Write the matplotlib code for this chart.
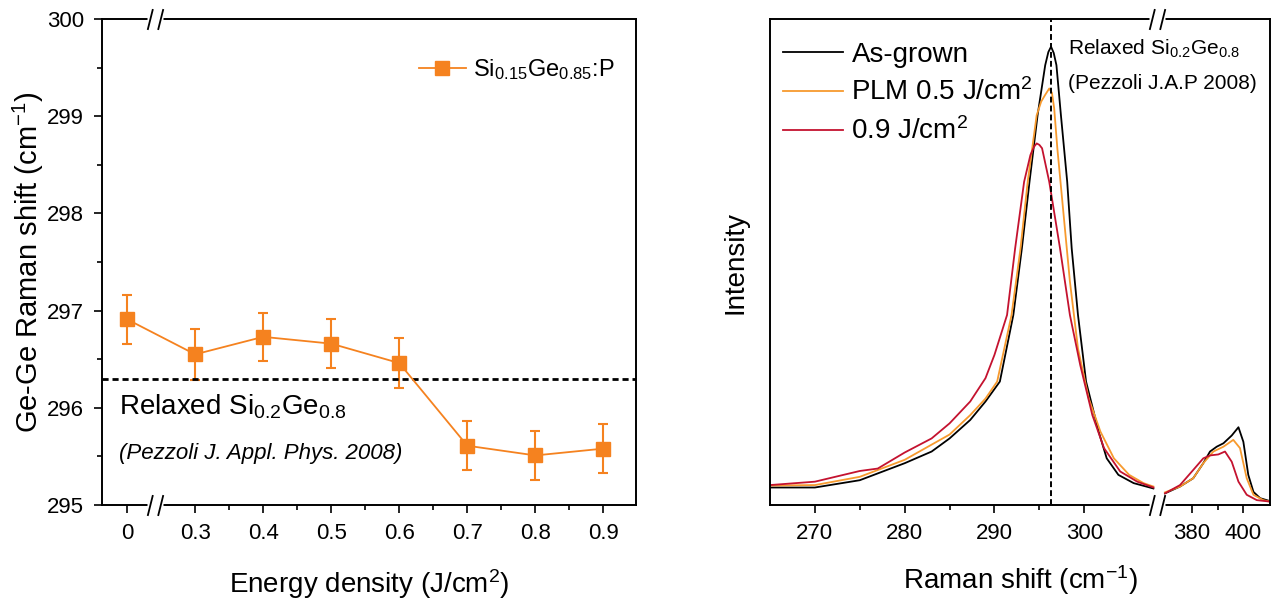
import matplotlib
matplotlib.use("Agg")
import matplotlib.pyplot as plt
from matplotlib.lines import Line2D
from matplotlib.path import Path
import numpy as np

plt.rcParams["font.family"] = ["Liberation Sans", "DejaVu Sans"]
plt.rcParams["mathtext.fontset"] = "custom"
plt.rcParams["mathtext.rm"] = "Liberation Sans"
plt.rcParams["mathtext.it"] = "Liberation Sans:italic"

# ---- left panel data: Ge-Ge peak position vs laser energy density ----
energy = [0, 0.3, 0.4, 0.5, 0.6, 0.7, 0.8, 0.9]
energy_labels = ["0", "0.3", "0.4", "0.5", "0.6", "0.7", "0.8", "0.9"]
gege_shift = [296.91, 296.55, 296.73, 296.66, 296.46, 295.61, 295.51, 295.58]
gege_err = [0.25, 0.26, 0.25, 0.25, 0.26, 0.25, 0.25, 0.25]
relaxed_ref = 296.3

# ---- right panel data: Raman spectra (normalised intensity) ----
# Ge-Ge band
asgrown_w = [265.0, 270.0, 275.0, 280.0, 283.0, 285.0, 287.3, 289.0, 290.6, 292.1,
             293.05, 293.9, 294.8, 295.65, 296.0, 296.3, 296.6, 296.9, 297.4, 298.1,
             298.6, 299.3, 300.2, 301.6, 302.5, 303.8, 305.5, 307.7]
asgrown_i = [0.036, 0.036, 0.051, 0.086, 0.110, 0.137, 0.175, 0.213, 0.254, 0.391,
             0.528, 0.665, 0.802, 0.905, 0.932, 0.943, 0.930, 0.905, 0.802, 0.665,
             0.528, 0.391, 0.254, 0.151, 0.096, 0.062, 0.045, 0.034]
plm05_w = [265.0, 270.0, 275.0, 280.0, 285.0, 287.3, 289.0, 290.3, 291.9, 292.9,
           293.7, 294.7, 295.2, 295.65, 296.1, 296.4, 296.65, 297.0, 297.7, 298.4,
           299.3, 300.5, 301.8, 303.3, 305.0, 306.6, 307.7]
plm05_i = [0.040, 0.041, 0.058, 0.093, 0.145, 0.185, 0.219, 0.254, 0.391, 0.528,
           0.665, 0.802, 0.830, 0.844, 0.857, 0.848, 0.816, 0.734, 0.597, 0.460,
           0.322, 0.219, 0.151, 0.096, 0.062, 0.045, 0.038]
plm09_w = [265.0, 270.0, 275.0, 277.0, 280.0, 283.0, 285.0, 287.3, 289.0, 290.0,
           291.4, 292.3, 293.3, 294.0, 294.4, 294.7, 295.0, 295.3, 296.1, 297.3,
           298.4, 299.55, 300.9, 302.2, 304.0, 305.9, 307.7]
plm09_i = [0.041, 0.048, 0.070, 0.075, 0.108, 0.137, 0.168, 0.213, 0.261, 0.309,
           0.391, 0.528, 0.665, 0.720, 0.737, 0.744, 0.741, 0.734, 0.665, 0.528,
           0.391, 0.288, 0.185, 0.117, 0.069, 0.048, 0.036]
# Si-Ge band
asgrown_w2 = [369.7, 375.5, 380.6, 384.5, 387.1, 389.7, 392.3, 395.5, 398.1, 400.0,
              401.9, 403.9, 406.5, 410.3]
asgrown_i2 = [0.024, 0.038, 0.055, 0.086, 0.110, 0.120, 0.127, 0.143, 0.160, 0.130,
              0.062, 0.027, 0.014, 0.008]
plm05_w2 = [369.7, 375.5, 380.6, 384.5, 388.4, 392.3, 396.1, 398.7, 401.3, 403.9,
            407.7, 410.3]
plm05_i2 = [0.026, 0.038, 0.055, 0.086, 0.110, 0.120, 0.134, 0.117, 0.055, 0.021,
            0.010, 0.007]
plm09_w2 = [369.7, 375.5, 380.6, 384.5, 387.1, 390.3, 392.9, 395.5, 398.1, 401.3,
            405.2, 410.3]
plm09_i2 = [0.024, 0.041, 0.072, 0.096, 0.102, 0.104, 0.110, 0.089, 0.048, 0.021,
            0.010, 0.007]

ORANGE = "#F5821F"
C_BLACK = "#000000"
C_ORANGE = "#F79A2E"
C_RED = "#C4122F"

# marker shaped like "//" used for axis breaks
SLASHES = Path([(-3, -4), (-1, 4), (1, -4), (3, 4)],
               [Path.MOVETO, Path.LINETO, Path.MOVETO, Path.LINETO])
BLANK = Path([(-2, 0), (2, 0)], [Path.MOVETO, Path.LINETO])


def axis_break(ax, x, y):
    ax.plot([x], [y], marker=BLANK, ms=12, mew=5, color="white",
            transform=ax.transAxes, clip_on=False, zorder=10)
    ax.plot([x], [y], marker=SLASHES, ms=15, mew=1.3, color="black",
            transform=ax.transAxes, clip_on=False, zorder=11)


def style_axes(ax):
    for s in ax.spines.values():
        s.set_linewidth(1.4)
    ax.tick_params(which="both", direction="out", width=1.2, labelsize=16,
                   pad=7)
    ax.tick_params(which="major", length=6)
    ax.tick_params(which="minor", length=3.5)


fig = plt.figure(figsize=(12.77, 6.08), dpi=100)
W, H = 1277, 608


def place(l, r, t, b):
    return [l / W, 1 - b / H, (r - l) / W, (b - t) / H]


# ---------------- left panel ----------------
ax = fig.add_axes(place(102, 636, 19, 505))
style_axes(ax)
# axis is broken between 0 and 0.3: the 0 point sits one step before 0.3
xpos = [e if e > 0 else 0.2 for e in energy]
ax.errorbar(xpos, gege_shift, yerr=gege_err, color=ORANGE, lw=1.3,
            marker="s", ms=10, mfc=ORANGE, mec=ORANGE, elinewidth=1.5,
            capsize=3.5, capthick=1.5)
ax.axhline(relaxed_ref, color="black", ls=(0, (2.2, 1.4)), lw=2)
ax.set_xlim(0.163, 0.948)
ax.set_ylim(295, 300)
ax.set_xticks(xpos)
ax.set_xticklabels(energy_labels)
ax.set_xticks(np.arange(0.35, 0.9, 0.1), minor=True)
ax.set_yticks(np.arange(295, 300.1, 1))
ax.set_yticks(np.arange(295.5, 300, 1), minor=True)
ax.text(0.188, 295.93, "Relaxed Si$_{0.2}$Ge$_{0.8}$", fontsize=20)
ax.text(0.188, 295.47, "(Pezzoli J. Appl. Phys. 2008)", fontsize=16,
        style="italic")
ax.set_xlabel("Energy density (J/cm$^2$)", fontsize=20)
ax.set_ylabel("Ge-Ge Raman shift (cm$^{-1}$)", fontsize=21)
ax.xaxis.set_label_coords(0.5, -0.127)
ax.yaxis.set_label_coords(-0.104, 0.5)
proxy = Line2D([], [], color=ORANGE, lw=1.3, marker="s", ms=10,
               mfc=ORANGE, mec=ORANGE)
ax.legend([proxy], ["Si$_{0.15}$Ge$_{0.85}$:P"], loc="upper right",
          bbox_to_anchor=(1.0, 0.965), frameon=False, fontsize=17,
          handlelength=2.0, handletextpad=0.3)
bx = (0.241 - 0.163) / (0.948 - 0.163)
axis_break(ax, bx, 0)
axis_break(ax, bx, 1)

# ---------------- right panel ----------------
axa = fig.add_axes(place(770, 1157, 19, 505))
axb = fig.add_axes(place(1157, 1270, 19, 505), sharey=axa)
axb.set_facecolor("none")
for a in (axa, axb):
    style_axes(a)
axa.spines["right"].set_visible(False)
axb.spines["left"].set_visible(False)
axb.tick_params(axis="y", which="both", left=False, labelleft=False)
axa.tick_params(axis="y", which="both", left=False, labelleft=False)

series = [
    ("As-grown", C_BLACK, asgrown_w, asgrown_i, asgrown_w2, asgrown_i2),
    ("PLM 0.5 J/cm$^2$", C_ORANGE, plm05_w, plm05_i, plm05_w2, plm05_i2),
    ("0.9 J/cm$^2$", C_RED, plm09_w, plm09_i, plm09_w2, plm09_i2),
]
for name, col, w1, i1, w2, i2 in series:
    axa.plot(w1, i1, color=col, lw=1.3, label=name)
    axb.plot(w2, i2, color=col, lw=1.3)

axa.axvline(relaxed_ref, color="black", ls=(0, (3, 1.6)), lw=1.4)
axa.set_xlim(265, 308.1)
axb.set_xlim(366.6, 410.3)
axa.set_ylim(0, 1)
axa.set_xticks([270, 280, 290, 300])
axa.set_xticks([275, 285, 295], minor=True)
axb.set_xticks([380, 400])
axb.set_xticks([390], minor=True)
axa.set_ylabel("Intensity", fontsize=20)
axa.yaxis.set_label_coords(-0.055, 0.5)
fig.text(1020 / W, 1 - 580 / H, "Raman shift (cm$^{-1}$)", fontsize=20,
         ha="center", va="center")
axa.text(298.2, 0.926, "Relaxed Si$_{0.2}$Ge$_{0.8}$", fontsize=15, zorder=5)
axa.text(298.2, 0.856, "(Pezzoli J.A.P 2008)", fontsize=15, zorder=5)
axa.legend(loc="upper left", bbox_to_anchor=(-0.03, 1.005), frameon=False,
           fontsize=20, handlelength=2.15, handletextpad=0.3, labelspacing=0.4)
axis_break(axb, 0, 0)
axis_break(axb, 0, 1)

fig.savefig("out.png", dpi=100)
